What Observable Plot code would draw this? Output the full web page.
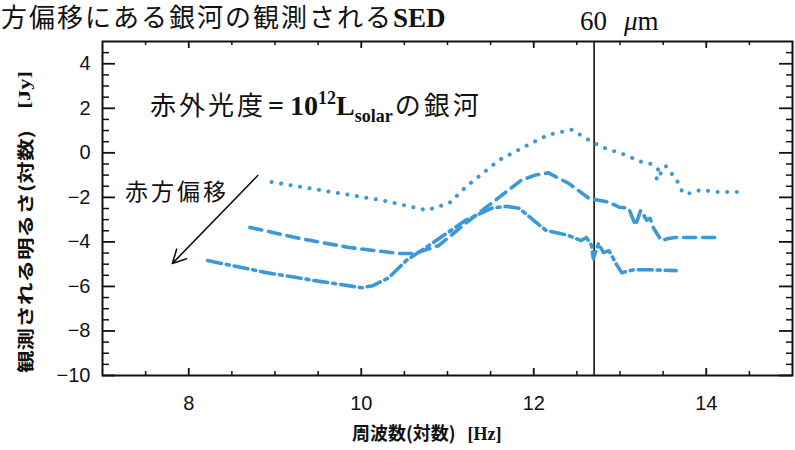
<!DOCTYPE html>
<html>
<head>
<meta charset="utf-8">
<script src="https://cdn.jsdelivr.net/npm/d3@7"></script>
<script src="https://cdn.jsdelivr.net/npm/@observablehq/plot@0.6"></script>
<style>
  body { margin: 0; background: #fff; }
  #chart svg { display: block; }
</style>
</head>
<body>
<div id="chart"></div>
<script>
// ---- data (log frequency [Hz], log flux [Jy]) ----
const dottedX = [8.96, 9.66, 10.24, 10.76, 11.02, 11.21, 11.60, 11.98, 12.17, 12.44, 12.67, 12.81, 13.06, 13.25, 13.36, 13.45, 13.42, 13.53, 13.58, 13.64, 13.69, 13.73, 13.83, 13.93, 14.14, 14.40];
const dottedY = [-1.31, -1.76, -2.13, -2.58, -2.26, -1.54, -0.32, 0.45, 0.81, 1.04, 0.50, 0.23, -0.09, -0.41, -0.50, -0.77, -1.22, -0.59, -0.86, -1.09, -1.49, -1.81, -1.81, -1.67, -1.76, -1.76];

const dashedX = [8.71, 9.29, 9.86, 10.44, 10.62, 10.90, 11.21, 11.51, 11.86, 12.02, 12.17, 12.40, 12.64, 12.87, 12.99, 13.10, 13.18, 13.24, 13.31, 13.35, 13.39, 13.48, 13.56, 13.64, 14.17];
const dashedY = [-3.35, -3.85, -4.25, -4.52, -4.52, -4.16, -3.17, -2.26, -1.22, -1.00, -0.90, -1.36, -2.04, -2.22, -2.44, -2.49, -3.26, -2.58, -3.03, -2.94, -3.39, -3.94, -3.85, -3.80, -3.80];

const dashDotX = [8.22, 8.90, 9.48, 10.01, 10.13, 10.32, 10.52, 10.82, 11.21, 11.51, 11.68, 11.83, 12.14, 12.40, 12.55, 12.61, 12.67, 12.69, 12.75, 12.81, 12.87, 12.91, 12.96, 13.02, 13.16, 13.33, 13.65];
const dashDotY = [-4.84, -5.38, -5.75, -6.06, -5.97, -5.61, -4.84, -4.07, -3.03, -2.49, -2.40, -2.49, -3.48, -3.71, -3.94, -3.80, -4.16, -4.75, -4.07, -4.48, -4.39, -4.66, -5.02, -5.38, -5.25, -5.25, -5.29];

const lambda60 = [12.7];              // log(c / 60 μm)
const arrowX = [8.80, 7.81];
const arrowY = [-1.02, -4.97];

const xMajor = [8, 10, 12, 14];
const xMinor = [7.5, 8.5, 9, 9.5, 10.5, 11, 11.5, 12.5, 13, 13.5, 14.5];
const yMajor = [-10, -8, -6, -4, -2, 0, 2, 4];
const yMinor = [-9.5, -9, -8.5, -7.5, -7, -6.5, -5.5, -5, -4.5, -3.5, -3, -2.5, -1.5, -1, -0.5, 0.5, 1, 1.5, 2.5, 3, 3.5, 4.5];

// ---- layout ----
const W = 795, H = 450, mL = 102, mR = 3, mT = 41, mB = 75;
const iw = W - mL - mR, ih = H - mT - mB;
const blue = "#3d98d6";
const CJK = "'Noto Sans CJK JP', 'Noto Sans', sans-serif";
const SERIF = "'Liberation Serif', 'DejaVu Serif', serif";
const SANS = "'Liberation Sans', Arial, sans-serif";

const toPts = (xs, ys) => xs.map((x, i) => ({x, y: ys[i]}));
const dotted = toPts(dottedX, dottedY);
const dashed = toPts(dashedX, dashedY);
const dashDot = toPts(dashDotX, dashDotY);
const arrowData = [{x1: arrowX[0], y1: arrowY[0], x2: arrowX[1], y2: arrowY[1]}];
const fmt = d => d < 0 ? "\u2212" + Math.abs(d) : String(d);

const plot = Plot.plot({
  width: W, height: H,
  marginLeft: mL, marginRight: mR, marginTop: mT, marginBottom: mB,
  style: {background: "white", fontFamily: SANS, overflow: "visible"},
  x: {domain: [7, 15]},
  y: {domain: [-10, 5]},
  marks: [
    Plot.ruleX(lambda60, {stroke: "#111", strokeWidth: 1.6}),
    Plot.line(dotted, {x: "x", y: "y", stroke: blue, strokeWidth: 4, strokeDasharray: "0.1,9.5", strokeLinecap: "round"}),
    Plot.line(dashed, {x: "x", y: "y", stroke: blue, strokeWidth: 3.6, strokeDasharray: "12,7"}),
    Plot.line(dashDot, {x: "x", y: "y", stroke: blue, strokeWidth: 3.6, strokeDasharray: "14,5,3,5"}),
    Plot.arrow(arrowData, {x1: "x1", y1: "y1", x2: "x2", y2: "y2", stroke: "#111", strokeWidth: 1.6, headLength: 14, headAngle: 55}),
    // ticks on all four sides, pointing inward
    Plot.tickX(xMajor, {x: d => d, insetTop: ih - 7, stroke: "#111", strokeWidth: 1.8}),
    Plot.tickX(xMinor, {x: d => d, insetTop: ih - 4, stroke: "#111", strokeWidth: 1.5}),
    Plot.tickX(xMajor, {x: d => d, insetBottom: ih - 7, stroke: "#111", strokeWidth: 1.8}),
    Plot.tickX(xMinor, {x: d => d, insetBottom: ih - 4, stroke: "#111", strokeWidth: 1.5}),
    Plot.tickY(yMajor, {y: d => d, insetRight: iw - 13, stroke: "#111", strokeWidth: 1.8}),
    Plot.tickY(yMinor, {y: d => d, insetRight: iw - 7, stroke: "#111", strokeWidth: 1.5}),
    Plot.tickY(yMajor, {y: d => d, insetLeft: iw - 13, stroke: "#111", strokeWidth: 1.8}),
    Plot.tickY(yMinor, {y: d => d, insetLeft: iw - 6, stroke: "#111", strokeWidth: 1.5}),
    Plot.frame({stroke: "#111", strokeWidth: 2}),
    Plot.axisX(xMajor, {anchor: "bottom", tickSize: 0, tickPadding: 20, fontSize: 20, fontFamily: SANS, fill: "#111", label: null, tickFormat: fmt}),
    Plot.axisY(yMajor, {anchor: "left", tickSize: 0, tickPadding: 12, fontSize: 20, fontFamily: SANS, fill: "#111", label: null, tickFormat: fmt})
  ]
});

document.getElementById("chart").appendChild(plot);

// ---- texts ----
const svg = d3.select(plot);
const addText = () => svg.append("text").attr("text-anchor", "start").attr("fill", "#111");

// title (partly cut at the left in the original)
const title = addText().attr("x", 1).attr("y", 27);
title.append("tspan").attr("font-family", CJK).attr("font-size", 26).attr("letter-spacing", 2).text("方偏移にある銀河の観測される");
title.append("tspan").attr("font-family", SERIF).attr("font-weight", "bold").attr("font-size", 27).text("SED");

// 60 μm label
const lab = addText().attr("y", 30).attr("font-family", SERIF).attr("font-size", 27);
lab.append("tspan").attr("x", 580).text("60");
lab.append("tspan").attr("x", 624).attr("font-style", "italic").text("\u03BC");
lab.append("tspan").text("m");

// in-plot annotation
const ann = addText().attr("x", 150).attr("y", 115);
ann.append("tspan").attr("font-family", CJK).attr("font-size", 26).attr("letter-spacing", 3).text("赤外光度");
ann.append("tspan").attr("font-family", SERIF).attr("font-weight", "bold").attr("font-size", 28).attr("dx", 2).text("=");
ann.append("tspan").attr("font-family", SERIF).attr("font-weight", "bold").attr("font-size", 28).attr("dx", 6).text("10");
ann.append("tspan").attr("font-family", SERIF).attr("font-weight", "bold").attr("font-size", 18).attr("dy", -11).text("12");
ann.append("tspan").attr("font-family", SERIF).attr("font-weight", "bold").attr("font-size", 28).attr("dy", 11).text("L");
ann.append("tspan").attr("font-family", SERIF).attr("font-weight", "bold").attr("font-size", 18).attr("dy", 7).text("solar");
ann.append("tspan").attr("font-family", CJK).attr("font-size", 26).attr("letter-spacing", 3).attr("dy", -7).attr("dx", 2).text("の銀河");

addText().attr("x", 125).attr("y", 200)
  .attr("font-family", CJK).attr("font-size", 23).attr("letter-spacing", 3).text("赤方偏移");

// axis titles
const xl = addText().attr("x", 352).attr("y", 440).attr("font-weight", "bold");
xl.append("tspan").attr("font-family", CJK).attr("font-size", 18).text("周波数(対数)");
xl.append("tspan").attr("font-family", SERIF).attr("font-size", 18).attr("dx", 12).text("[Hz]");

const yl = svg.append("text").attr("transform", "translate(24,222) rotate(-90) scale(1.33,1)")
  .attr("text-anchor", "middle").attr("dominant-baseline", "central").attr("fill", "#111").attr("font-weight", "bold");
yl.append("tspan").attr("font-family", CJK).attr("font-size", 17).text("観測される明るさ(対数)");
yl.append("tspan").attr("font-family", SERIF).attr("font-size", 17).attr("dx", 16).text("[Jy]");
</script>
</body>
</html>
